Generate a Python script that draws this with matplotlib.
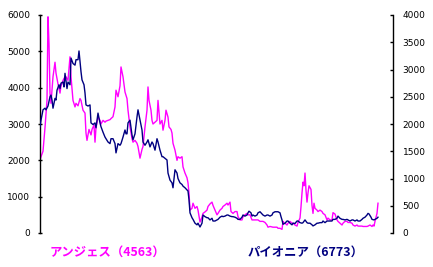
import numpy as np
import matplotlib
matplotlib.use("Agg")
import matplotlib.pyplot as plt

plt.rcParams['font.family'] = ['DejaVu Sans']

# (trading day from start, closing price)
anges = [(0, 2000), (1, 2100), (3, 2250), (5, 2900), (7, 3650), (8, 5950), (9, 5200), (10, 3850), (11, 3570), (13, 4300),
         (15, 4700), (16, 4400), (18, 4100), (20, 3850), (21, 4050), (23, 4200), (25, 4300), (26, 4300), (28, 4200), (30, 4850),
         (31, 4300), (33, 3650), (35, 3470), (36, 3570), (38, 3500), (40, 3700), (41, 3650), (43, 3380), (45, 3300), (46, 2750),
         (47, 2550), (49, 2850), (51, 2700), (52, 2850), (54, 2970), (55, 2500), (56, 2900), (58, 3190), (60, 3100), (61, 3000),
         (63, 3100), (65, 3050), (66, 3080), (68, 3100), (70, 3120), (71, 3150), (73, 3200), (75, 3470), (76, 3930), (78, 3750),
         (80, 4050), (81, 4570), (83, 4300), (84, 4100), (85, 3880), (87, 3700), (88, 3380), (90, 2920), (92, 2600), (93, 2500),
         (95, 2550), (97, 2470), (98, 2380), (100, 2060), (102, 2300), (103, 2380), (105, 2920), (107, 3380), (108, 4020), (109, 3650),
         (111, 3380), (112, 3100), (113, 3000), (115, 3050), (117, 3100), (118, 3650), (120, 3000), (122, 3100), (123, 2830), (125, 3100),
         (126, 3380), (128, 3190), (129, 2920), (131, 2850), (132, 2750), (133, 2470), (135, 2280), (137, 2000), (138, 2100), (140, 2060),
         (142, 2100), (143, 1820), (145, 1650), (147, 1520), (148, 1380), (149, 1100), (150, 630), (152, 680), (153, 820), (155, 680),
         (157, 730), (158, 630), (160, 300), (162, 440), (163, 540), (165, 580), (167, 630), (168, 730), (170, 800), (172, 850),
         (173, 760), (175, 630), (177, 500), (178, 540), (180, 630), (182, 680), (183, 730), (185, 770), (187, 820), (188, 770),
         (190, 850), (191, 590), (193, 540), (195, 590), (197, 590), (198, 450), (200, 360), (202, 360), (203, 450), (205, 500),
         (207, 540), (208, 500), (210, 500), (212, 360), (215, 360), (218, 360), (220, 320), (223, 320), (225, 290), (227, 220),
         (228, 160), (230, 180), (233, 160), (237, 160), (238, 130), (240, 130), (242, 100), (243, 320), (244, 270), (245, 270),
         (247, 220), (248, 270), (250, 320), (252, 270), (253, 270), (255, 220), (257, 190), (258, 290), (260, 410), (261, 720),
         (262, 1100), (263, 1400), (264, 1300), (265, 1650), (266, 1180), (267, 850), (268, 1100), (269, 1300), (270, 1250), (271, 1200),
         (272, 760), (273, 540), (274, 820), (275, 680), (277, 630), (278, 590), (280, 630), (282, 590), (283, 540), (285, 500),
         (287, 360), (288, 410), (290, 360), (292, 360), (293, 560), (295, 520), (297, 360), (298, 320), (300, 270), (302, 220),
         (303, 270), (305, 320), (307, 320), (308, 290), (310, 290), (312, 270), (313, 220), (315, 190), (317, 220), (318, 190),
         (320, 190), (322, 190), (323, 180), (325, 180), (327, 180), (328, 190), (330, 220), (332, 180), (333, 220), (334, 190),
         (335, 320), (337, 540), (338, 820)]

pioneer = [(0, 1950), (1, 2070), (3, 2260), (5, 2290), (6, 2260), (8, 2330), (10, 2500), (11, 2530), (12, 2440), (13, 2290),
           (15, 2470), (16, 2440), (17, 2620), (19, 2720), (20, 2650), (21, 2750), (23, 2770), (24, 2680), (25, 2930), (27, 2650),
           (28, 2770), (30, 2720), (31, 3210), (33, 3110), (35, 3080), (36, 3180), (38, 3180), (39, 3340), (41, 2960), (42, 2810),
           (44, 2720), (45, 2570), (46, 2350), (48, 2330), (50, 2350), (51, 2020), (53, 1990), (55, 2020), (56, 1930), (58, 2200),
           (60, 2020), (61, 1950), (63, 1850), (65, 1760), (66, 1730), (68, 1670), (70, 1640), (71, 1730), (73, 1730), (75, 1640),
           (76, 1470), (78, 1640), (80, 1610), (81, 1640), (83, 1760), (85, 1890), (86, 1820), (87, 1820), (88, 2020), (90, 2070),
           (92, 1800), (93, 1710), (95, 1820), (97, 2130), (98, 2260), (100, 2070), (102, 1890), (103, 1670), (105, 1610), (107, 1670),
           (108, 1710), (110, 1580), (112, 1670), (113, 1640), (115, 1520), (117, 1730), (118, 1670), (120, 1520), (122, 1400), (123, 1400),
           (125, 1370), (127, 1340), (128, 1100), (130, 970), (132, 920), (133, 830), (135, 1160), (137, 1100), (138, 1000), (140, 920),
           (142, 890), (143, 860), (145, 830), (147, 790), (148, 770), (149, 610), (150, 370), (152, 280), (153, 250), (155, 180),
           (157, 150), (158, 180), (160, 110), (162, 180), (163, 330), (165, 300), (167, 280), (168, 280), (170, 240), (172, 270),
           (173, 220), (175, 220), (177, 240), (178, 250), (180, 290), (182, 310), (183, 300), (185, 310), (187, 330), (188, 330),
           (190, 310), (192, 300), (193, 300), (195, 290), (197, 270), (198, 250), (200, 250), (202, 290), (203, 330), (205, 310),
           (207, 330), (208, 370), (209, 400), (211, 370), (212, 310), (213, 330), (215, 310), (217, 330), (218, 370), (220, 390),
           (222, 350), (223, 330), (225, 310), (227, 330), (228, 330), (230, 310), (232, 330), (233, 370), (235, 390), (237, 390),
           (238, 390), (240, 370), (241, 300), (242, 240), (243, 160), (245, 180), (247, 220), (248, 220), (250, 180), (252, 150),
           (253, 180), (255, 175), (257, 220), (258, 220), (260, 190), (262, 180), (263, 190), (265, 240), (267, 190), (268, 180),
           (270, 180), (272, 150), (273, 130), (275, 150), (277, 180), (278, 180), (280, 190), (282, 190), (283, 220), (285, 190),
           (287, 220), (288, 220), (290, 220), (292, 220), (293, 250), (295, 250), (297, 270), (298, 310), (300, 270), (302, 250),
           (303, 250), (305, 240), (307, 250), (308, 240), (310, 220), (312, 240), (313, 240), (315, 220), (317, 240), (318, 220),
           (320, 220), (322, 250), (323, 270), (325, 290), (327, 330), (328, 360), (329, 350), (331, 290), (332, 250), (334, 240),
           (335, 250), (337, 270), (338, 290)]

left_ticks = [0, 1000, 2000, 3000, 4000, 5000, 6000]
right_ticks = [0, 500, 1000, 1500, 2000, 2500, 3000, 3500, 4000]

MAGENTA = '#FF00FF'
NAVY = '#000080'

anges_days, anges_price = zip(*anges)
pioneer_days, pioneer_price = zip(*pioneer)

fig = plt.figure(figsize=(4.33, 2.67), dpi=100)
ax = fig.add_axes([40 / 433, 1 - 233 / 267, 353 / 433, 218 / 267])
ax2 = ax.twinx()

ax.plot(anges_days, anges_price, color=MAGENTA, lw=1.0)
ax2.plot(pioneer_days, pioneer_price, color=NAVY, lw=1.0)

ax.set_xlim(0, 353)
ax.set_ylim(0, 6000)
ax2.set_ylim(0, 4000)
ax.set_yticks(left_ticks)
ax2.set_yticks(right_ticks)
ax.set_xticks([])

for a in (ax, ax2):
    a.patch.set_visible(False)
    for s in ('top', 'bottom'):
        a.spines[s].set_visible(False)
ax.spines['right'].set_visible(False)
ax2.spines['left'].set_visible(False)
ax.spines['left'].set_linewidth(1.0)
ax2.spines['right'].set_linewidth(1.0)

ax.tick_params(axis='y', direction='inout', length=3, width=1, pad=5.5, labelsize=6.5)
ax2.tick_params(axis='y', direction='in', length=2.5, width=1, pad=7, labelsize=6.5)

jp = ['Noto Sans CJK JP', 'DejaVu Sans']
fig.text(50 / 433, 1 - 252 / 267, 'アンジェス（4563）', color=MAGENTA, fontsize=8.9,
         fontweight='bold', family=jp, ha='left', va='center')
fig.text(248 / 433, 1 - 252 / 267, 'パイオニア（6773）', color=NAVY, fontsize=8.9,
         fontweight='bold', family=jp, ha='left', va='center')

fig.savefig('out.png', dpi=100)
